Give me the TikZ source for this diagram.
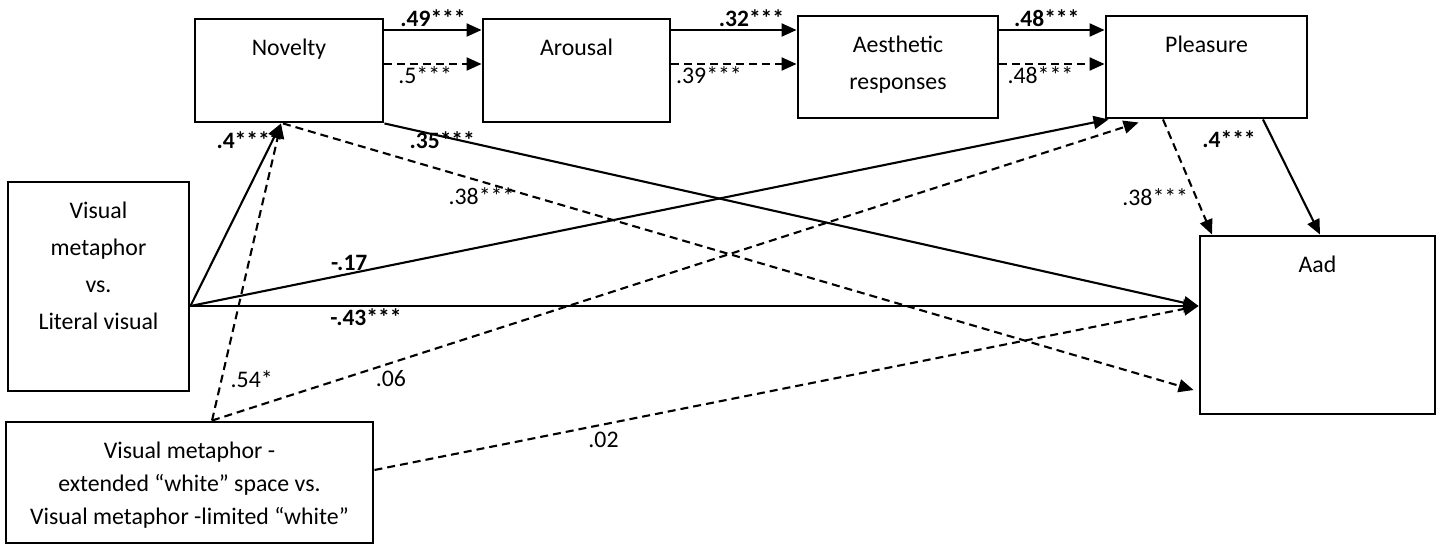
\documentclass[tikz,border=0pt]{standalone}
\usepackage{fontspec}
\setmainfont{Carlito}
\usetikzlibrary{arrows.meta,positioning}
\tikzset{
  box/.style={draw, line width=2.9pt, inner sep=0pt},
  boxtext/.style={anchor=north, yshift=-21.5pt, align=center, inner sep=0pt},
  link/.style={line width=2.1pt, -{Triangle[length=15pt,width=13pt]}},
  dlink/.style={link, dash pattern=on 8pt off 5pt},
  coef/.style={inner sep=2pt, font=\fontsize{23.5}{37}\selectfont\bfseries},
  coefd/.style={inner sep=2pt}
}
\begin{document}
\begin{tikzpicture}[x=1pt, y=1pt, font=\fontsize{23.8}{37}\selectfont]
  \useasboundingbox (0,0) rectangle (1447,-546);
  \node[box, minimum width=188pt, minimum height=103pt] (nov) at (289,-70.5) {};
  \node[box, minimum width=187pt, minimum height=103pt] (aro) at (576.5,-70.5) {};
  \node[box, minimum width=200pt, minimum height=102pt] (aes) at (898,-67) {};
  \node[box, minimum width=201pt, minimum height=102pt] (ple) at (1206.5,-67) {};
  \node[box, minimum width=235pt, minimum height=178pt] (aad) at (1317.5,-325) {};
  \node[box, minimum width=181pt, minimum height=209pt] (vml) at (98.5,-286.5) {};
  \node[box, minimum width=367pt, minimum height=121pt] (ws) at (189.5,-482.5) {};
  \node[boxtext] (novt) at (nov.north) {Novelty};
  \node[boxtext] (arot) at (aro.north) {Arousal};
  \node[boxtext] (aest) at (aes.north) {Aesthetic\\responses};
  \node[boxtext] (plet) at (ple.north) {Pleasure};
  \node[boxtext] (aadt) at (aad.north) {Aad};
  \node[boxtext] (vmlt) at (vml.north) {Visual\\metaphor\\vs.\\Literal visual};
  \node[boxtext, font=\fontsize{23.8}{33}\selectfont] (wst) at (ws.north) {Visual metaphor -\\extended “white” space vs.\\Visual metaphor -limited “white”};
  \coordinate (top) at (0,-30);
  \coordinate (mid) at (0,-64);
  \coordinate (vs) at (vml.east |- 0,-306);
  \coordinate (aw) at (aad.west |- vs);
  \draw[link] (nov.east |- top) -- node[coef, above] (c1) {.49***} (aro.west |- top);
  \draw[dlink] (nov.east |- mid) -- node[coefd, below, pos=0.42] (c2) {.5***} (aro.west |- mid);
  \draw[link] (aro.east |- top) -- node[coef, above, pos=0.64] (c3) {.32***} (aes.west |- top);
  \draw[dlink] (aro.east |- mid) -- node[coefd, below, pos=0.3] (c4) {.39***} (aes.west |- mid);
  \draw[link] (aes.east |- top) -- node[coef, above, pos=0.45] (c5) {.48***} (ple.west |- top);
  \draw[dlink] (aes.east |- mid) -- node[coefd, below, pos=0.39] (c6) {.48***} (ple.west |- mid);
  \draw[link] (vs) -- node[coef, pos=0.91, left] (c7) {.4***} ([xshift=-8pt]nov.south);
  \draw[link] (vs) -- node[coef, pos=0.173, above] (c8) {-.17} ([xshift=4pt]ple.south west);
  \draw[link] (vs) -- node[coef, pos=0.174, below] (c9) {-.43***} (aw);
  \draw[link] (nov.south east) -- node[coef, pos=0.071, yshift=-3.5pt] (c10) {.35***} (aw);
  \draw[dlink] ([xshift=-6pt]nov.south) -- node[coefd, pos=0.218, yshift=-14.5pt] (c11) {.38***} ([xshift=-5pt,yshift=-65pt]aad.west);
  \draw[dlink] ([xshift=22.5pt]ws.north) -- node[coefd, pos=0.14, right=6pt] (c12) {.54*} ([xshift=-8pt]nov.south);
  \draw[dlink] ([xshift=22.5pt]ws.north) -- node[coefd, pos=0.193, yshift=-16pt] (c13) {.06} ([xshift=34pt,yshift=-3pt]ple.south west);
  \draw[dlink] ([yshift=12.5pt]ws.east) -- node[coefd, pos=0.278, yshift=-15.6pt] (c14) {.02} (aw);
  \draw[dlink] ([xshift=-43.5pt]ple.south) -- node[coefd, pos=0.678, xshift=-41pt] (c15) {.38***} ([xshift=-105.5pt]aad.north);
  \draw[link] ([xshift=56.5pt]ple.south) -- node[coef, pos=0.17, xshift=-43.7pt] (c16) {.4***} ([xshift=2.5pt]aad.north);
\end{tikzpicture}
\end{document}
